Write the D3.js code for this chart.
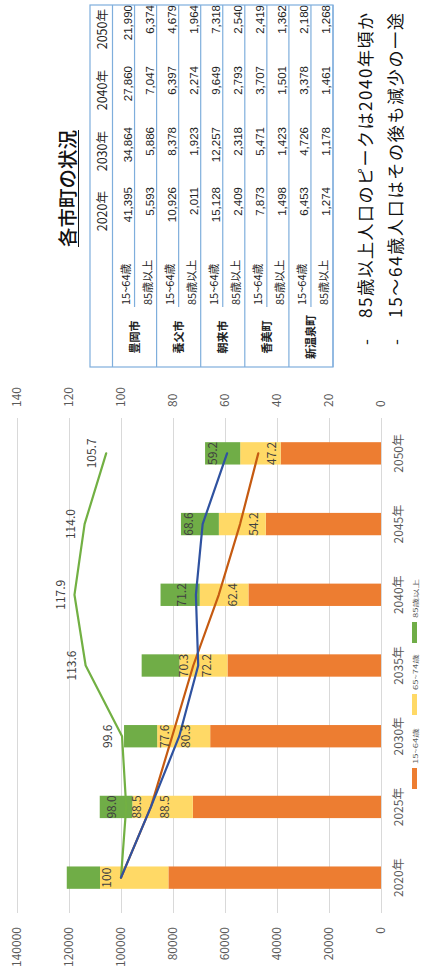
<!DOCTYPE html>
<html><head><meta charset="utf-8">
<script src="https://cdn.jsdelivr.net/npm/d3@7"></script>
<style>
html,body{margin:0;padding:0;background:#fff;}
svg{display:block;}
text{font-family:"Noto Sans CJK JP","Noto Sans",sans-serif;}
</style></head><body>
<script>
// ---- chart data: population of the five municipalities (persons) ----
const years = ["2020年","2025年","2030年","2035年","2040年","2045年","2050年"];
const pop15to64 = [81775, 72371, 65696, 59042, 50991, 44322, 38586];
const pop65to74 = [26300, 23276, 20409, 18489, 18726, 18042, 15570];
const pop85plus = [12785, 12529, 12728, 14524, 15076, 14575, 13508];
// index lines (2020 = 100)
const idx15to64 = [100, 88.5, 80.3, 72.2, 62.4, 54.2, 47.2];
const idx65to74 = [100, 88.5, 77.6, 70.3, 71.2, 68.6, 59.2];
const idx85plus = [100, 98.0, 99.6, 113.6, 117.9, 114.0, 105.7];
const leftTicks = [0, 20000, 40000, 60000, 80000, 100000, 120000, 140000];
const rightTicks = [0, 20, 40, 60, 80, 100, 120, 140];
const seriesNames = ["15~64歳", "65~74歳", "85歳以上"];

// ---- table data ----
const title = "各市町の状況";
const cities = ["豊岡市", "養父市", "朝来市", "香美町", "新温泉町"];
const tableYears = ["2020年", "2030年", "2040年", "2050年"];
const rowLabels = ["15~64歳", "85歳以上"];
const working = [[41395,34864,27860,21990],[10926,8378,6397,4679],[15128,12257,9649,7318],[7873,5471,3707,2419],[6453,4726,3378,2180]];
const elderly85 = [[5593,5886,7047,6374],[2011,1923,2274,1964],[2409,2318,2793,2540],[1498,1423,1501,1362],[1274,1178,1461,1268]];
const notes = ["85歳以上人口のピークは2040年頃か", "15～64歳人口はその後も減少の一途"];

// ---- page: a landscape sheet turned onto a portrait page ----
const W = 971, H = 423;
const svg = d3.select("body").append("svg").attr("width", H).attr("height", W);
svg.append("rect").attr("width", H).attr("height", W).attr("fill", "#fff");
const g = svg.append("g").attr("transform", `translate(0,${W}) rotate(-90)`);

const colors = {bar: ["#ED7D31", "#FFD966", "#70AD47"], line: ["#C55A11", "#2F52A0", "#72B043"]};
const grey = "#595959";

// scales
const x = d3.scaleBand().domain(years).range([58, 553]).paddingInner(0.684).paddingOuter(0.342);
const yL = d3.scaleLinear().domain([0, 140000]).range([381, 17]);
const yR = d3.scaleLinear().domain([0, 140]).range([381, 17]);
const cx = d => x(d) + x.bandwidth() / 2;

// left axis with gridlines
const axL = g.append("g").attr("transform", "translate(58,0)")
  .call(d3.axisLeft(yL).tickValues(leftTicks).tickFormat(d3.format("d")).tickSize(-(553 - 58)).tickPadding(14));
axL.select(".domain").remove();
axL.selectAll(".tick line").attr("stroke", "#D9D9D9").attr("stroke-width", 1);
axL.selectAll("text").attr("fill", grey).style("font-size", "12px");

// right axis
const axR = g.append("g").attr("transform", "translate(553,0)")
  .call(d3.axisRight(yR).tickValues(rightTicks).tickSize(0).tickPadding(11));
axR.select(".domain").remove();
axR.selectAll("text").attr("fill", grey).style("font-size", "12px");

// category axis
const axB = g.append("g").attr("transform", "translate(0,381)")
  .call(d3.axisBottom(x).tickSize(0).tickPadding(13));
axB.select(".domain").remove();
axB.selectAll("text").attr("fill", grey).style("font-size", "12px");

// stacked bars
const rows = years.map((yv, i) => ({year: yv, a: pop15to64[i], b: pop65to74[i], c: pop85plus[i]}));
const stack = d3.stack().keys(["a", "b", "c"])(rows);
g.append("g").selectAll("g").data(stack).join("g")
  .attr("fill", (d, i) => colors.bar[i])
  .selectAll("rect").data(d => d).join("rect")
  .attr("x", d => x(d.data.year))
  .attr("width", x.bandwidth())
  .attr("y", d => yL(d[1]))
  .attr("height", d => yL(d[0]) - yL(d[1]));

// index lines
const line = d3.line().x((d, i) => cx(years[i])).y(d => yR(d));
const lineSeries = [
  {vals: idx85plus, color: colors.line[2], pos: -1, skipFirst: false},
  {vals: idx15to64, color: colors.line[0], pos: 1, skipFirst: true},
  {vals: idx65to74, color: colors.line[1], pos: -1, skipFirst: true}
];
lineSeries.forEach(s => {
  g.append("path").datum(s.vals).attr("d", line)
    .attr("fill", "none").attr("stroke", s.color).attr("stroke-width", 2.2)
    .attr("stroke-linejoin", "round").attr("stroke-linecap", "round");
});
const fmt = v => v === 100 ? "100" : v.toFixed(1);
lineSeries.forEach(s => {
  g.append("g").selectAll("text").data(s.vals.map((v, i) => ({v, i})).filter(d => !(s.skipFirst && d.i === 0)))
    .join("text")
    .attr("x", d => cx(years[d.i]))
    .attr("y", d => yR(d.v) + s.pos * 14)
    .attr("dy", "0.35em")
    .attr("text-anchor", "middle")
    .attr("fill", "#404040")
    .style("font-size", "12px")
    .text(d => fmt(d.v));
});

// legend
const legendX = [182, 256, 328];
seriesNames.forEach((n, i) => {
  g.append("rect").attr("x", legendX[i]).attr("y", 412).attr("width", 21).attr("height", 5).attr("fill", colors.bar[i]);
  g.append("text").attr("transform", `translate(${legendX[i] + 25},418) scale(1,0.65)`)
    .attr("fill", grey).style("font-size", "9.5px").text(n);
});

// ---- title ----
const tg = g.append("g");
tg.append("text").attr("x", 782.5).attr("y", 75).attr("text-anchor", "middle")
  .attr("fill", "#111").style("font-size", "19.5px").style("font-weight", "500").text(title);
tg.append("line").attr("x1", 724).attr("x2", 841).attr("y1", 78.5).attr("y2", 78.5).attr("stroke", "#111").attr("stroke-width", 1);

// ---- table ----
const tx0 = 604, tx1 = 966, ty0 = 90, hdrH = 22.5, rowH = 22.05;
const colRight = [785, 845, 906, 967];
const border = "#7FAEDC";
const tb = g.append("g");
const ty = i => ty0 + hdrH + i * rowH;
// headers
tableYears.forEach((t, j) => {
  tb.append("text").attr("x", colRight[j] - 5).attr("y", ty0 + 16.5).attr("text-anchor", "end")
    .attr("fill", "#222").style("font-size", "12.5px").text(t);
});
cities.forEach((c, k) => {
  const r0 = ty(2 * k);
  tb.append("text").attr("x", 634).attr("y", r0 + rowH + 4).attr("text-anchor", "middle")
    .attr("fill", "#222").style("font-size", "11px").style("font-weight", "bold").text(c);
  [working[k], elderly85[k]].forEach((vals, s) => {
    const rt = r0 + s * rowH;
    tb.append("text").attr("x", 666).attr("y", rt + 17).attr("fill", "#222").style("font-size", "11px").text(rowLabels[s]);
    vals.forEach((v, j) => {
      tb.append("text").attr("x", colRight[j] - 1).attr("y", rt + 19.5).attr("text-anchor", "end")
        .attr("fill", "#222").style("font-family", "'Liberation Sans',Arial,sans-serif").style("font-size", "11.5px")
        .text(d3.format(",")(v));
    });
  });
  // divider between the two rows of a city
  tb.append("line").attr("x1", 664).attr("x2", tx1).attr("y1", r0 + rowH).attr("y2", r0 + rowH)
    .attr("stroke", border).attr("stroke-width", 1.2);
  // divider under the city group
  tb.append("line").attr("x1", tx0).attr("x2", tx1).attr("y1", r0 + 2 * rowH).attr("y2", r0 + 2 * rowH)
    .attr("stroke", border).attr("stroke-width", 1.2);
});
tb.append("line").attr("x1", tx0).attr("x2", tx1).attr("y1", ty0 + hdrH).attr("y2", ty0 + hdrH)
  .attr("stroke", border).attr("stroke-width", 1.2);
tb.append("rect").attr("x", tx0).attr("y", ty0).attr("width", tx1 - tx0).attr("height", ty(10) - ty0)
  .attr("fill", "none").attr("stroke", border).attr("stroke-width", 1.2);

// ---- notes ----
notes.forEach((n, i) => {
  const by = 372 + i * 29.5;
  g.append("text").attr("x", 626).attr("y", by).attr("fill", "#111").style("font-size", "17px").text("-");
  g.append("text").attr("x", 653).attr("y", by).attr("fill", "#111").style("font-size", "17px")
    .attr("textLength", 305).attr("lengthAdjust", "spacing").text(n);
});
</script>
</body></html>
